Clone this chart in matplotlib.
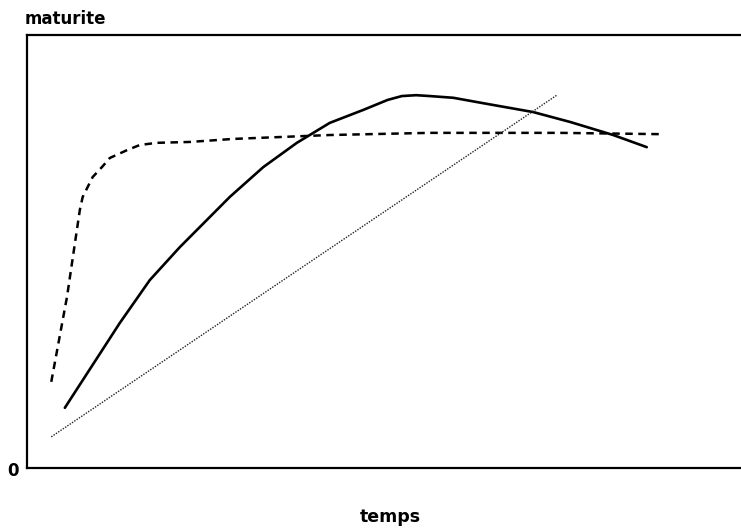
import matplotlib
matplotlib.use('Agg')
import matplotlib.pyplot as plt

# courbe en tirets (monte vite puis plateau)
x_tirets = [3.4, 5.6, 7.4, 7.8, 9.2, 10.5, 11.6, 14.0, 15.8, 18.2, 22.8, 28.9, 42.4, 56.4, 74.6, 88.7]
y_tirets = [19.9, 39.5, 59.6, 62.6, 67.2, 69.5, 71.6, 73.4, 74.6, 75.1, 75.3, 76.0, 76.9, 77.4, 77.4, 77.1]

# courbe pleine (maximum puis declin)
x_plein = [5.3, 13.0, 17.2, 21.4, 28.4, 33.1, 37.8, 42.4, 47.1, 50.5, 52.5, 54.5, 56.4, 59.7, 64.4, 70.9, 76.1, 82.1, 86.8]
y_plein = [13.9, 33.5, 43.4, 51.0, 62.6, 69.5, 75.1, 79.7, 82.7, 85.0, 85.9, 86.1, 85.9, 85.5, 84.1, 82.2, 79.9, 76.9, 74.1]

# droite en pointilles
x_droite = [3.4, 74.2]
y_droite = [7.2, 86.1]

fig = plt.figure(figsize=(7.41, 5.29), dpi=100)
ax = fig.add_axes([27 / 741, 61 / 529, 714 / 741, 433 / 529])

ax.plot(x_plein, y_plein, color='black', lw=1.9, solid_capstyle='round', solid_joinstyle='round')
ax.plot(x_tirets, y_tirets, color='black', lw=1.8, linestyle=(0, (3, 2.2)))
ax.plot(x_droite, y_droite, color='#222222', lw=1.0, linestyle=(0, (1, 1)))

ax.set_xlim(0, 100)
ax.set_ylim(0, 100)
ax.set_xticks([])
ax.set_yticks([])
ax.spines['right'].set_visible(False)
for s in ['left', 'top', 'bottom']:
    ax.spines[s].set_linewidth(1.6)

fig.text(25 / 741, 1 - 19 / 529, 'maturite', fontsize=12, fontweight='bold', ha='left', va='center')
fig.text(13 / 741, 1 - 471 / 529, '0', fontsize=12, fontweight='bold', ha='center', va='center')
fig.text(390 / 741, 1 - 517 / 529, 'temps', fontsize=12.5, fontweight='bold', ha='center', va='center')

plt.savefig('out.png', dpi=100)
